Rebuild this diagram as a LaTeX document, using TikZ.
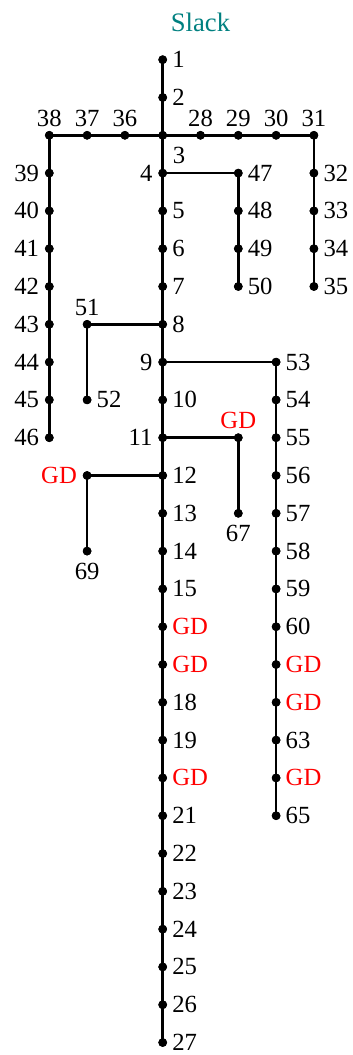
\documentclass[tikz,border=0pt]{standalone}
\usepackage{fontspec}
\setmainfont{Liberation Serif}
\definecolor{slackcol}{RGB}{0,128,128}
\definecolor{gdcol}{RGB}{255,0,0}
\begin{document}
\begin{tikzpicture}[x=28.35pt,y=28.35pt,
  bus/.style={circle,fill=black,inner sep=0pt,minimum size=6.5pt},
  wire/.style={draw=black,line width=1.9pt},
  txt/.style={inner sep=0pt,font=\fontsize{18.5}{22}\selectfont},
  lr/.style={txt,anchor=west,xshift=7pt},
  ll/.style={txt,anchor=east,xshift=-7.5pt},
  la/.style={txt,anchor=south,yshift=6.5pt},
  lb/.style={txt,anchor=north,yshift=-9pt},
  lbr/.style={txt,anchor=north west,xshift=7.5pt,yshift=-9pt},
  gd/.style={text=gdcol}]
\useasboundingbox (-4.304,1.579) rectangle (5.034,-26.33);
% buses
\foreach \i in {1,...,27} \node[bus] (n\i) at (0,{1-\i}) {};
\node[bus] (n36) at (-1,-2) {};
\node[bus] (n37) at (-2,-2) {};
\node[bus] (n38) at (-3,-2) {};
\foreach \i in {28,...,31} \node[bus] (n\i) at ({\i-27},-2) {};
\foreach \i in {32,...,35} \node[bus] (n\i) at (4,{29-\i}) {};
\foreach \i in {39,...,46} \node[bus] (n\i) at (-3,{36-\i}) {};
\foreach \i in {47,...,50} \node[bus] (n\i) at (2,{44-\i}) {};
\node[bus] (n51) at (-2,-7) {};
\node[bus] (n52) at (-2,-9) {};
\foreach \i in {53,...,65} \node[bus] (n\i) at (3,{45-\i}) {};
\node[bus] (n66) at (2,-10) {};
\node[bus] (n67) at (2,-12) {};
\node[bus] (n68) at (-2,-11) {};
\node[bus] (n69) at (-2,-13) {};
% lines
\foreach \i [evaluate=\i as \j using int(\i+1)] in {1,...,26} \draw[wire] (n\i.center) -- (n\j.center);
\draw[wire] (n38.center) -- (n37.center) -- (n36.center) -- (n3.center) -- (n28.center) -- (n29.center) -- (n30.center) -- (n31.center);
\draw[wire] (n38.center) -- (n39.center);
\foreach \i [evaluate=\i as \j using int(\i+1)] in {39,...,45} \draw[wire] (n\i.center) -- (n\j.center);
\draw[wire] (n31.center) -- (n32.center);
\foreach \i [evaluate=\i as \j using int(\i+1)] in {32,...,34} \draw[wire] (n\i.center) -- (n\j.center);
\draw[wire] (n4.center) -- (n47.center);
\foreach \i [evaluate=\i as \j using int(\i+1)] in {47,...,49} \draw[wire] (n\i.center) -- (n\j.center);
\draw[wire] (n8.center) -- (n51.center) -- (n52.center);
\draw[wire] (n9.center) -- (n53.center);
\foreach \i [evaluate=\i as \j using int(\i+1)] in {53,...,64} \draw[wire] (n\i.center) -- (n\j.center);
\draw[wire] (n11.center) -- (n66.center) -- (n67.center);
\draw[wire] (n12.center) -- (n68.center) -- (n69.center);
% redraw dots on top of wires
\foreach \i in {1,...,69} \fill[black] (n\i.center) circle (3.25pt);
% labels
\node[txt,anchor=base,text=slackcol,font=\fontsize{20}{24}\selectfont] (slack) at (1,0.733) {Slack};
\foreach \i in {1,2,5,6,7,8,10,12,13,14,15,18,19,21,22,23,24,25,26,27,32,33,34,35,47,48,49,50,52,53,54,55,56,57,58,59,60,63,65}
  \node[lr] (t\i) at (n\i.center) {\i};
\foreach \i in {16,17,20,61,62,64}
  \node[lr,gd] (t\i) at (n\i.center) {GD};
\foreach \i in {4,9,11,39,40,41,42,43,44,45,46}
  \node[ll] (t\i) at (n\i.center) {\i};
\node[lbr] (t3) at (n3.center) {3};
\foreach \i in {28,29,30,31,36,37,38,51}
  \node[la] (t\i) at (n\i.center) {\i};
\node[la,gd] (t66) at (n66.center) {GD};
\node[ll,gd] (t68) at (n68.center) {GD};
\node[lb] (t67) at (n67.center) {67};
\node[lb] (t69) at (n69.center) {69};
\end{tikzpicture}
\end{document}
